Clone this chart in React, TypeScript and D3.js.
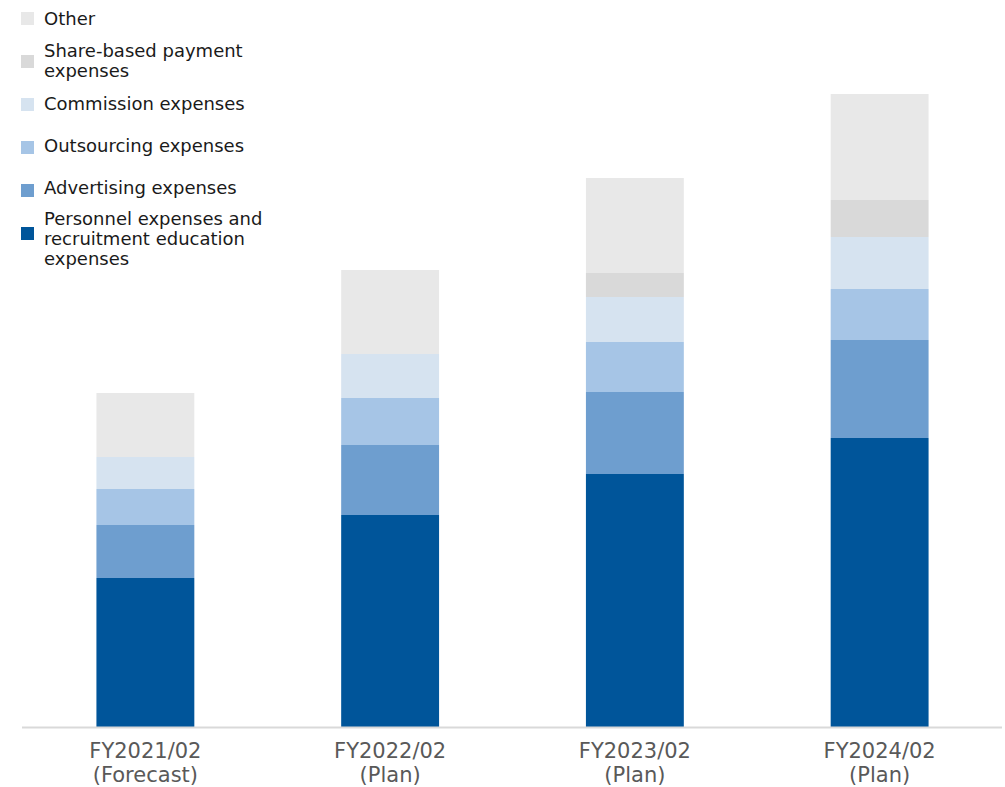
import React from "react";
import * as d3 from "d3";

const categories = ["FY2021/02\n(Forecast)", "FY2022/02\n(Plan)", "FY2023/02\n(Plan)", "FY2024/02\n(Plan)"];
const seriesNames = [
  "Personnel expenses and\nrecruitment education\nexpenses",
  "Advertising expenses",
  "Outsourcing expenses",
  "Commission expenses",
  "Share-based payment\nexpenses",
  "Other",
];
const personnel = [149, 212, 253, 289];
const advertising = [53, 70, 82, 98];
const outsourcing = [36, 47, 50, 51];
const commission = [32, 44, 45, 52];
const shareBased = [0, 0, 24, 37];
const other = [64, 84, 95, 106];
const colors = ["#00559a", "#6e9ecf", "#a6c5e6", "#d6e3f0", "#d9d9d9", "#e8e8e8"];

const W = 1005;
const H = 787;

export default function App() {
  const seriesValues = [personnel, advertising, outsourcing, commission, shareBased, other];
  const rows = categories.map((c, i) => {
    const r: any = { cat: c };
    seriesNames.forEach((s, j) => (r[s] = seriesValues[j][i]));
    return r;
  });
  const stack = d3.stack<any>().keys(seriesNames)(rows);
  const x = d3.scaleBand<string>().domain(categories).range([23, 1002]).paddingInner(0.6).paddingOuter(0.3);
  const y = d3.scaleLinear().domain([0, 700]).range([727, 27]);

  const legendRows = [
    { idx: 5, sq: 12, base: 25 },
    { idx: 4, sq: 55, base: 57 },
    { idx: 3, sq: 98, base: 110 },
    { idx: 2, sq: 141, base: 152 },
    { idx: 1, sq: 184, base: 194 },
    { idx: 0, sq: 227, base: 225 },
  ];
  const font = "'DejaVu Sans', Verdana, sans-serif";

  return (
    <div style={{ position: "absolute", left: 0, top: 0 }}>
      <svg width={W} height={H} style={{ display: "block" }}>
        <rect width={W} height={H} fill="#ffffff" />
        {stack.map((s, j) => (
          <g key={s.key} fill={colors[j]}>
            {s.map((d, i) =>
              d[1] - d[0] > 0 ? (
                <rect
                  key={i}
                  x={x(categories[i])!}
                  y={y(d[1])}
                  width={x.bandwidth()}
                  height={y(d[0]) - y(d[1])}
                />
              ) : null
            )}
          </g>
        ))}
        <line x1={22} x2={1002} y1={727.5} y2={727.5} stroke="#d9d9d9" strokeWidth={2} />
        {categories.map((c) => (
          <text
            key={c}
            x={x(c)! + x.bandwidth() / 2}
            textAnchor="middle"
            fontFamily={font}
            fontSize={21}
            fill="#595959"
          >
            {c.split("\n").map((l, k) => (
              <tspan key={k} x={x(c)! + x.bandwidth() / 2} y={758 + k * 23.5}>
                {l}
              </tspan>
            ))}
          </text>
        ))}
        {legendRows.map((r) => (
          <g key={r.idx}>
            <rect x={21} y={r.sq} width={13} height={13} fill={colors[r.idx]} />
            <text fontFamily={font} fontSize={18} fill="#1a1a1a">
              {seriesNames[r.idx].split("\n").map((l, k) => (
                <tspan key={k} x={44} y={r.base + k * 20}>
                  {l}
                </tspan>
              ))}
            </text>
          </g>
        ))}
      </svg>
    </div>
  );
}
